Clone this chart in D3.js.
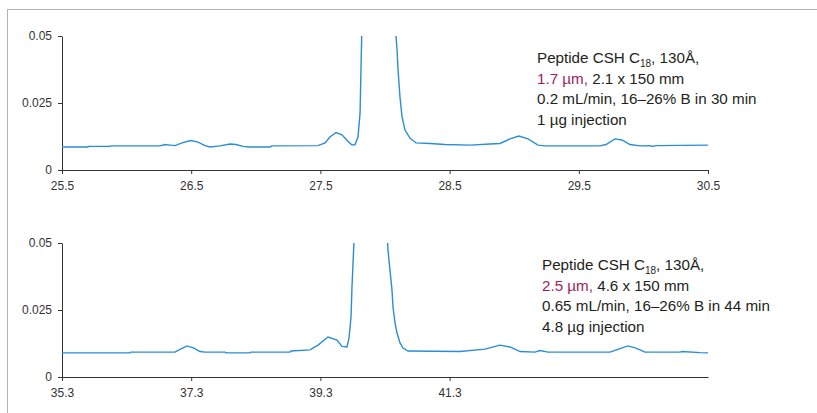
<!DOCTYPE html>
<html>
<head>
<meta charset="utf-8">
<script src="https://cdn.jsdelivr.net/npm/d3@7"></script>
<style>
  body { margin: 0; background: #fff; }
  text { font-family: "Liberation Sans", Arial, sans-serif; }
  .axis path, .axis line { stroke: #333; }
  .axis text { fill: #333; font-size: 12px; }
  .note { font-size: 15.2px; fill: #231f20; }
</style>
</head>
<body>
<svg id="chart" width="817" height="413"></svg>
<script>
// top run: 1.7 um column (time in min, absorbance)
const topTime = [25.5, 25.701, 25.702, 25.872, 25.873, 26.259, 26.297, 26.336, 26.375, 26.429, 26.498, 26.553,
  26.607, 26.646, 26.723, 26.8, 26.847, 26.901, 26.955, 27.11, 27.125, 27.481, 27.536, 27.574, 27.621,
  27.667, 27.714, 27.745, 27.768, 27.791, 27.807, 27.814, 27.822, 27.946, 28.077, 28.093, 28.101, 28.116,
  28.132, 28.155, 28.193, 28.24, 28.348, 28.464, 28.658, 28.813, 28.89, 28.967, 29.037, 29.107, 29.184,
  29.238, 29.664, 29.711, 29.78, 29.834, 29.896, 29.974, 30.051, 30.067, 30.098, 30.5];
const topSignal = [0.0086, 0.0086, 0.0088, 0.0088, 0.009, 0.009, 0.0095, 0.0093, 0.0091, 0.0101, 0.011, 0.0104,
  0.0091, 0.0086, 0.009, 0.0097, 0.0095, 0.0088, 0.0086, 0.0086, 0.009, 0.0091, 0.0101, 0.0123, 0.014,
  0.0131, 0.0106, 0.0093, 0.0095, 0.0123, 0.0213, 0.0373, 0.055, 0.3, 0.055, 0.045, 0.0373, 0.0272,
  0.0198, 0.0149, 0.0119, 0.0101, 0.0099, 0.0095, 0.0093, 0.0097, 0.0099, 0.0116, 0.0127, 0.0116, 0.0093,
  0.009, 0.009, 0.0095, 0.0116, 0.0112, 0.0095, 0.009, 0.0091, 0.0088, 0.0091, 0.0093];

// bottom run: 2.5 um column
const bottomTime = [35.3, 36.353, 36.368, 37.049, 37.127, 37.235, 37.343, 37.436, 37.514, 37.823, 37.839,
  38.21, 38.226, 38.829, 38.845, 39.139, 39.263, 39.418, 39.557, 39.634, 39.712, 39.743, 39.774, 39.789,
  39.805, 39.828, 40.083, 40.331, 40.346, 40.377, 40.408, 40.424, 40.455, 40.486, 40.532, 40.579, 40.656,
  41.461, 41.848, 42.08, 42.235, 42.39, 42.622, 42.699, 42.823, 43.783, 43.938, 44.062, 44.185, 44.325,
  44.867, 44.898, 45.176, 45.3];
const bottomSignal = [0.009, 0.009, 0.0093, 0.0093, 0.0103, 0.0116, 0.0108, 0.0095, 0.0093, 0.0093, 0.009,
  0.009, 0.0093, 0.0093, 0.0097, 0.0101, 0.0119, 0.0149, 0.0138, 0.0114, 0.0112, 0.0146, 0.0224, 0.0336,
  0.0425, 0.055, 0.3, 0.055, 0.0474, 0.0399, 0.0325, 0.0261, 0.0202, 0.0164, 0.0127, 0.0108, 0.0097,
  0.0095, 0.0104, 0.0119, 0.0112, 0.0095, 0.0093, 0.0099, 0.0093, 0.0093, 0.0106, 0.0116, 0.0108, 0.0093,
  0.0093, 0.0095, 0.0091, 0.009];

const yTicks = [0, 0.025, 0.05];
const topXTicks = [25.5, 26.5, 27.5, 28.5, 29.5, 30.5];
const bottomXTicks = [35.3, 37.3, 39.3, 41.3];

const topNote = ["1.7 µm,", " 2.1 x 150 mm", "0.2 mL/min, 16–26% B in 30 min", "1 µg injection"];
const bottomNote = ["2.5 µm,", " 4.6 x 150 mm", "0.65 mL/min, 16–26% B in 44 min", "4.8 µg injection"];

const svg = d3.select("#chart");

// frame lines on the left and top
svg.append("line").attr("x1", 7.5).attr("x2", 7.5).attr("y1", 9).attr("y2", 413)
  .attr("stroke", "#b3b3b3");
svg.append("line").attr("x1", 7).attr("x2", 817).attr("y1", 9.5).attr("y2", 9.5)
  .attr("stroke", "#b3b3b3");

const lineColor = "#2a8ed4";
const accent = "#a01c5c";

// draws one chromatogram panel
const drawPanel = (id, times, signal, xTicks, top, bottom, note, noteX, noteY) => {
  const x = d3.scaleLinear()
      .domain([xTicks[0], id === "top" ? 30.5 : 45.3])
      .range([62, 708]);
  const y = d3.scaleLinear()
      .domain([0, 0.05])
      .range([bottom, top]);

  svg.append("clipPath").attr("id", "clip-" + id)
    .append("rect")
    .attr("x", 62).attr("y", top)
    .attr("width", 646).attr("height", bottom - top);

  svg.append("g")
    .attr("class", "axis")
    .attr("transform", "translate(62,0)")
    .call(d3.axisLeft(y).tickValues(yTicks).tickSize(4).tickSizeOuter(0).tickPadding(6)
      .tickFormat(d => d === 0 ? "0" : String(d)));

  svg.append("g")
    .attr("class", "axis")
    .attr("transform", `translate(0,${bottom})`)
    .call(d3.axisBottom(x).tickValues(xTicks).tickSize(4).tickSizeOuter(0).tickPadding(7)
      .tickFormat(d3.format(".1f")));

  const pts = times.map((t, i) => [t, signal[i]]);
  const line = d3.line()
      .x(d => x(d[0]))
      .y(d => y(d[1]));

  svg.append("path")
    .datum(pts)
    .attr("clip-path", `url(#clip-${id})`)
    .attr("fill", "none")
    .attr("stroke", lineColor)
    .attr("stroke-width", 1.4)
    .attr("d", line);

  // column description
  const g = svg.append("g").attr("class", "note");
  const first = g.append("text").attr("x", noteX).attr("y", noteY);
  first.append("tspan").text("Peptide CSH C");
  first.append("tspan").attr("dy", 4).attr("font-size", 10).text("18");
  first.append("tspan").attr("dy", -4).text(", 130Å,");

  const second = g.append("text").attr("x", noteX).attr("y", noteY + 20.7);
  second.append("tspan").attr("fill", accent).text(note[0]);
  second.append("tspan").text(note[1]);

  g.append("text").attr("x", noteX).attr("y", noteY + 41.4).text(note[2]);
  g.append("text").attr("x", noteX).attr("y", noteY + 62.1).text(note[3]);
}

drawPanel("top", topTime, topSignal, topXTicks, 36, 170, topNote, 537, 63);
drawPanel("bottom", bottomTime, bottomSignal, bottomXTicks, 243, 377, bottomNote, 542, 270);
</script>
</body>
</html>
